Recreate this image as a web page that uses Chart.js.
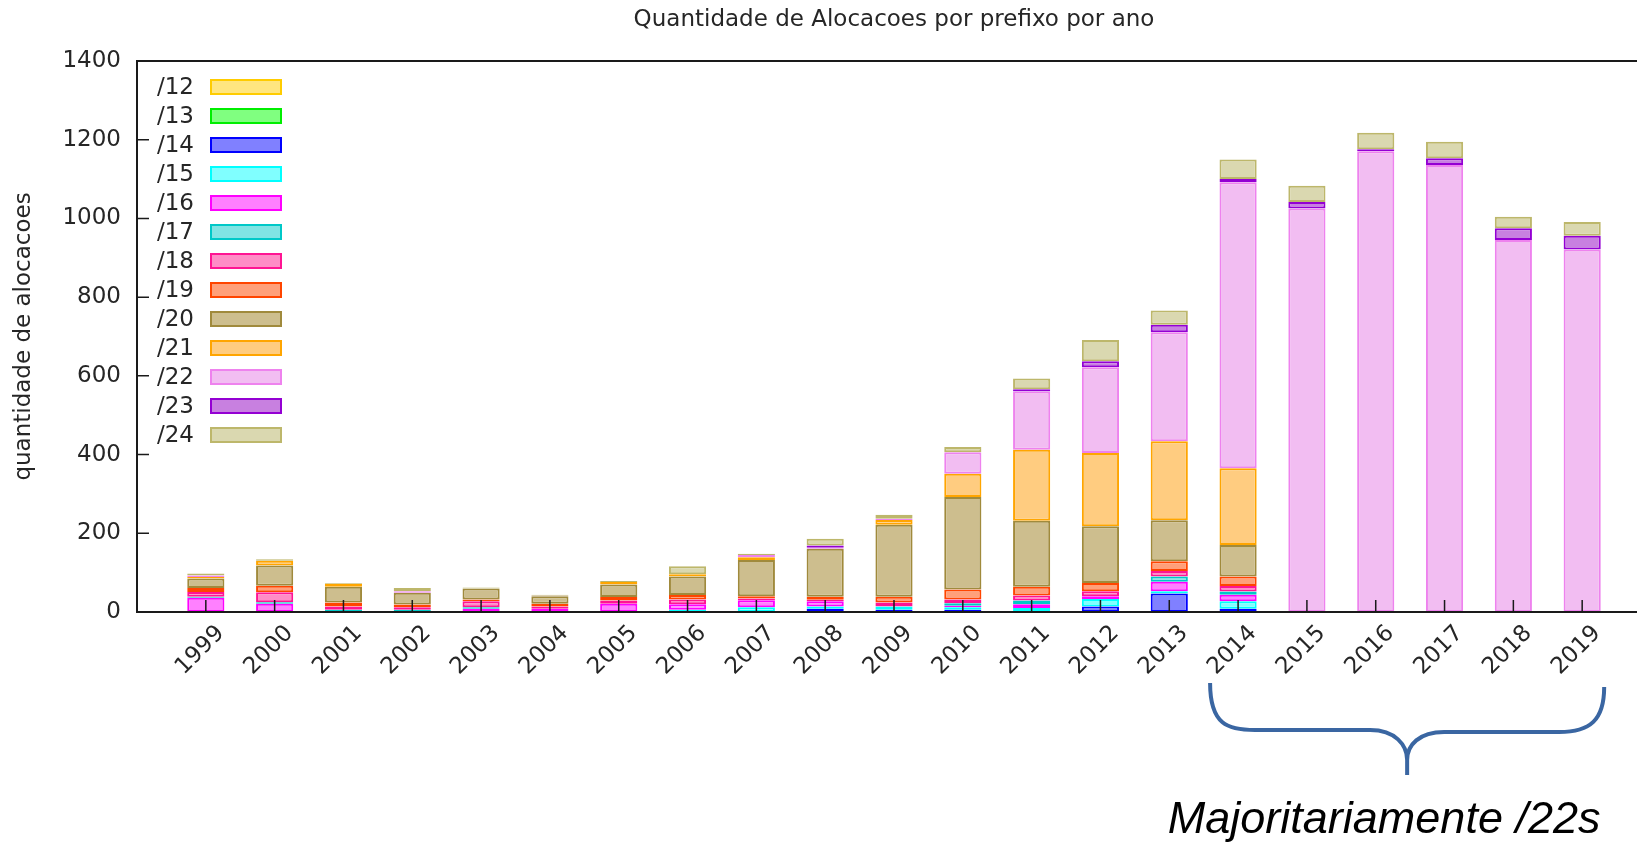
<!DOCTYPE html>
<html>
<head>
<meta charset="utf-8">
<script src="https://cdn.jsdelivr.net/npm/chart.js@4"></script>
<style>
  html, body { margin: 0; padding: 0; background: #fff; overflow: hidden; }
  #wrap { position: absolute; left: 0; top: 0; width: 1786px; height: 846px; }
</style>
</head>
<body>
<div id="wrap"><canvas id="c" width="1786" height="846"></canvas></div>
<script>
// ---- data ----
const years = ['1999','2000','2001','2002','2003','2004','2005','2006','2007','2008','2009','2010','2011','2012','2013','2014','2015','2016','2017','2018','2019'];
const prefixes = ['/12','/13','/14','/15','/16','/17','/18','/19','/20','/21','/22','/23','/24'];
const p12 = [0,0,0,0,0,0,0,0,0,0,0,0,0,0,0,0,0,0,0,0,0];
const p13 = [0,0,0,0,0,0,0,0,0,0,0,0,0,0,0,0,0,0,0,0,0];
const p14 = [0,0,0,0,0,0,0,0,0,8,6,6,2,14,47,8,0,0,0,0,0];
const p15 = [0,0,0,0,0,0,0,6,12,6,8,6,8,19,6,19,0,0,0,0,0];
const p16 = [36,21,0,0,8,8,21,14,18,13,0,4,10,7,24,17,0,0,0,0,0];
const p17 = [3,4,6,6,4,0,0,0,0,0,0,6,9,0,13,8,0,0,0,0,0];
const p18 = [12,25,8,6,15,6,8,12,4,4,10,10,13,13,14,14,0,0,0,0,0];
const p19 = [10,17,10,7,5,7,9,11,6,8,15,25,22,21,25,24,0,0,0,0,0];
const p20 = [24,51,40,30,28,19,32,47,92,122,183,235,168,144,104,80,0,0,0,0,0];
const p21 = [4,12,8,0,0,0,6,6,7,0,12,59,180,186,201,195,0,0,0,0,0];
const p22 = [4,0,0,4,0,1,0,0,6,2,3,55,148,218,277,727,1025,1171,1136,945,921];
const p23 = [0,0,0,0,0,0,0,0,0,6,0,0,6,15,19,8,17,5,17,30,35];
const p24 = [5,4,2,8,2,3,3,20,3,17,10,13,27,54,36,50,41,42,42,29,35];
const series = [p12,p13,p14,p15,p16,p17,p18,p19,p20,p21,p22,p23,p24];
const yTicks = [0,200,400,600,800,1000,1200,1400];

// ---- styles ----
const fills   = ['#ffe680','#80ff80','#8080ff','#80ffff','#ff80ff','#80e4e4','#ff8cc6','#ffa07a','#cdbe8e','#ffcc80','#f2bdf2','#c880e0','#dad8b0'];
const borders = ['#ffcc00','#00ee00','#0000ff','#00ffff','#ff00ff','#00c8c8','#ff1493','#ff4500','#a08a3c','#ffa500','#ee82ee','#9400d3','#bdb76b'];
const FONT = 'DejaVu Sans';
const FS = 23;
const TXT = '#262626';

const labels = [''].concat(years, ['']);
const datasets = series.map((s, i) => ({
  label: prefixes[i],
  data: [null].concat(s.map(v => v === 0 ? null : v), [null]),
  backgroundColor: fills[i],
  borderColor: borders[i],
  borderWidth: 2,
  borderSkipped: false,
  barPercentage: 0.54,
  categoryPercentage: 1.0
}));

const framePlugin = {
  id: 'frame',
  afterDatasetsDraw(chart) {
    const {ctx, chartArea: a, scales: {x, y}} = chart;
    ctx.save();
    ctx.strokeStyle = '#1a1a1a';
    ctx.lineWidth = 1.5;
    // inward ticks
    ctx.beginPath();
    y.ticks.forEach((t, i) => {
      const py = y.getPixelForTick(i);
      ctx.moveTo(a.left, py); ctx.lineTo(a.left + 12, py);
    });
    x.ticks.forEach((t, i) => {
      if (!labels[i]) return;
      const px = x.getPixelForTick(i);
      ctx.moveTo(px, a.bottom); ctx.lineTo(px, a.bottom - 12);
    });
    ctx.stroke();
    // border
    ctx.lineWidth = 2;
    ctx.strokeRect(a.left, a.top, a.right - a.left, a.bottom - a.top);
    // legend (key inside, text left of sample box)
    ctx.font = FS + 'px "' + FONT + '"';
    ctx.textAlign = 'right';
    ctx.textBaseline = 'middle';
    chart.data.datasets.forEach((ds, i) => {
      const cy = a.top + 26 + i * 29;
      ctx.fillStyle = TXT;
      ctx.fillText(ds.label, a.left + 57, cy + 1);
      ctx.fillStyle = ds.backgroundColor;
      ctx.fillRect(a.left + 73, cy - 8, 72, 16);
      ctx.strokeStyle = ds.borderColor;
      ctx.lineWidth = 2;
      ctx.strokeRect(a.left + 74, cy - 7, 70, 14);
    });
    ctx.restore();
  },
  afterDraw(chart) {
    const {ctx, chartArea: a, scales: {x}} = chart;
    const i0 = labels.indexOf('2014'), i1 = labels.indexOf('2019');
    const L = x.getPixelForTick(i0) - 28, R = x.getPixelForTick(i1) + 22;
    const M = (L + R) / 2, b = a.bottom;
    ctx.save();
    ctx.strokeStyle = '#3a66a2';
    ctx.lineWidth = 4;
    ctx.lineCap = 'butt';
    ctx.beginPath();
    ctx.moveTo(L, b + 71);
    ctx.bezierCurveTo(L, b + 113, L + 18, b + 118, L + 45, b + 118);
    ctx.lineTo(M - 37, b + 118);
    ctx.bezierCurveTo(M - 12, b + 118, M, b + 133, M, b + 148);
    ctx.lineTo(M, b + 163);
    ctx.moveTo(M, b + 148);
    ctx.bezierCurveTo(M, b + 133, M + 12, b + 120, M + 37, b + 120);
    ctx.lineTo(R - 45, b + 120);
    ctx.bezierCurveTo(R - 14, b + 120, R, b + 108, R, b + 75);
    ctx.stroke();
    ctx.fillStyle = '#000';
    ctx.font = 'italic 45px "Liberation Sans"';
    ctx.textAlign = 'center';
    ctx.textBaseline = 'alphabetic';
    ctx.fillText('Majoritariamente /22s', M - 23, b + 221);
    ctx.restore();
  }
};

new Chart(document.getElementById('c'), {
  type: 'bar',
  data: { labels, datasets },
  plugins: [framePlugin],
  options: {
    responsive: false,
    animation: false,
    devicePixelRatio: 1,
    layout: { padding: { left: 0, right: 135, top: 0, bottom: 0 } },
    plugins: {
      legend: { display: false },
      tooltip: { enabled: false },
      title: {
        display: true,
        fullSize: false,
        text: 'Quantidade de Alocacoes por prefixo por ano',
        color: TXT,
        font: { family: FONT, size: FS, weight: 'normal' },
        padding: { top: 6, bottom: 27.4 }
      }
    },
    scales: {
      x: {
        stacked: true,
        offset: false,
        grid: { display: false, drawTicks: false },
        border: { display: false },
        ticks: {
          autoSkip: false,
          minRotation: 45, maxRotation: 45,
          padding: 8,
          labelOffset: 15,
          color: TXT,
          font: { family: FONT, size: FS }
        },
        afterFit(s) { s.height = 234; }
      },
      y: {
        stacked: true,
        min: 0, max: 1400,
        grid: { display: false, drawTicks: false },
        border: { display: false },
        afterBuildTicks(s) { s.ticks = yTicks.map(v => ({ value: v })); },
        ticks: {
          padding: 16,
          color: TXT,
          font: { family: FONT, size: FS },
          callback: v => String(v)
        },
        title: {
          display: true,
          text: 'quantidade de alocacoes',
          color: TXT,
          font: { family: FONT, size: FS },
          padding: { top: 10, bottom: 0 }
        },
        afterFit(s) { s.width = 137; }
      }
    }
  }
});
</script>
</body>
</html>
